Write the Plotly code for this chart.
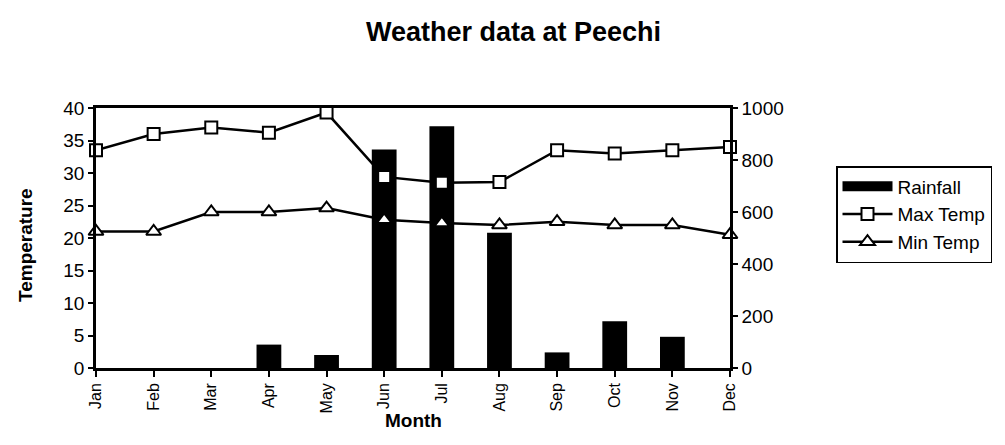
import plotly.graph_objects as go

months = ["Jan", "Feb", "Mar", "Apr", "May", "Jun", "Jul", "Aug", "Sep", "Oct", "Nov", "Dec"]
rainfall = [0, 0, 0, 90, 50, 840, 930, 520, 60, 180, 120, 0]
max_temp = [33.5, 36, 37, 36.2, 39.3, 29.4, 28.5, 28.6, 33.5, 33, 33.5, 34]
min_temp = [21, 21, 24, 24, 24.6, 22.8, 22.3, 22, 22.5, 22, 22, 20.5]

FONT = "Arial, Liberation Sans, sans-serif"

fig = go.Figure()
# Rainfall bars on the primary axis (drawn first, underneath)
fig.add_trace(go.Bar(
    x=months, y=rainfall, name="Rainfall", yaxis="y", showlegend=False,
    marker=dict(color="black", line=dict(width=0)), width=0.43,
))
# legend swatch for the rainfall bars (wide black block)
fig.add_trace(go.Scatter(
    x=[None], y=[None], name="Rainfall", mode="lines", yaxis="y2",
    line=dict(color="black", width=14), legendrank=1,
))
fig.add_trace(go.Scatter(
    x=months, y=max_temp, name="Max Temp", mode="lines+markers", yaxis="y2",
    line=dict(color="black", width=2.5),
    marker=dict(symbol="square", size=12, color="white", line=dict(color="black", width=2)),
    cliponaxis=False, legendrank=2,
))
fig.add_trace(go.Scatter(
    x=months, y=min_temp, name="Min Temp", mode="lines+markers", yaxis="y2",
    line=dict(color="black", width=2.5),
    marker=dict(symbol="triangle-up", size=13, color="white", line=dict(color="black", width=2)),
    cliponaxis=False, legendrank=3,
))

L, R, T, B = 88, 1005 - 722, 100, 445 - 360
PW, PH = 1005 - L - R, 445 - T - B

fig.update_layout(
    width=1005, height=445,
    margin=dict(l=L, r=R, t=T, b=B, autoexpand=False),
    paper_bgcolor="white", plot_bgcolor="white",
    font=dict(family=FONT, size=18, color="black"),
    title=dict(text="<b>Weather data at Peechi</b>", x=0.503, xanchor="center",
               y=1 - 24 / 445, yanchor="middle", font=dict(size=27, family=FONT, color="black")),
    xaxis=dict(
        type="category", range=[0, 11], showgrid=False, automargin=False,
        showline=True, linecolor="black", linewidth=2.5, mirror=True,
        ticks="outside", ticklen=6, tickcolor="black", tickwidth=1.5,
        tickangle=-90, tickfont=dict(size=16),
    ),
    yaxis=dict(
        range=[0, 1000], dtick=200, side="right", automargin=False,
        showgrid=False, zeroline=False,
        showline=True, linecolor="black", linewidth=2.5,
        ticks="outside", ticklen=5, tickcolor="black", tickwidth=1.5,
        tickfont=dict(size=19),
    ),
    yaxis2=dict(
        range=[0, 40], dtick=5, overlaying="y", side="left", automargin=False,
        showgrid=False, zeroline=False,
        showline=True, linecolor="black", linewidth=2.5,
        ticks="outside", ticklen=5, tickcolor="black", tickwidth=1.5,
        tickfont=dict(size=19),
    ),
    legend=dict(
        x=(828 - L) / PW, y=(445 - B - 158) / PH, xanchor="left", yanchor="top",
        bordercolor="black", borderwidth=1.5, bgcolor="white",
        font=dict(size=19), tracegroupgap=0, itemwidth=50,
    ),
    annotations=[
        dict(text="<b>Month</b>", xref="paper", yref="paper",
             x=(405 - L) / PW, y=(445 - B - 412) / PH, showarrow=False,
             xanchor="center", yanchor="middle", font=dict(size=19)),
        dict(text="<b>Temperature</b>", xref="paper", yref="paper",
             x=(17 - L) / PW, y=(445 - B - 237) / PH, showarrow=False,
             xanchor="center", yanchor="middle", textangle=-90, font=dict(size=19)),
    ],
    showlegend=True,
)

fig.write_html("out.html")
